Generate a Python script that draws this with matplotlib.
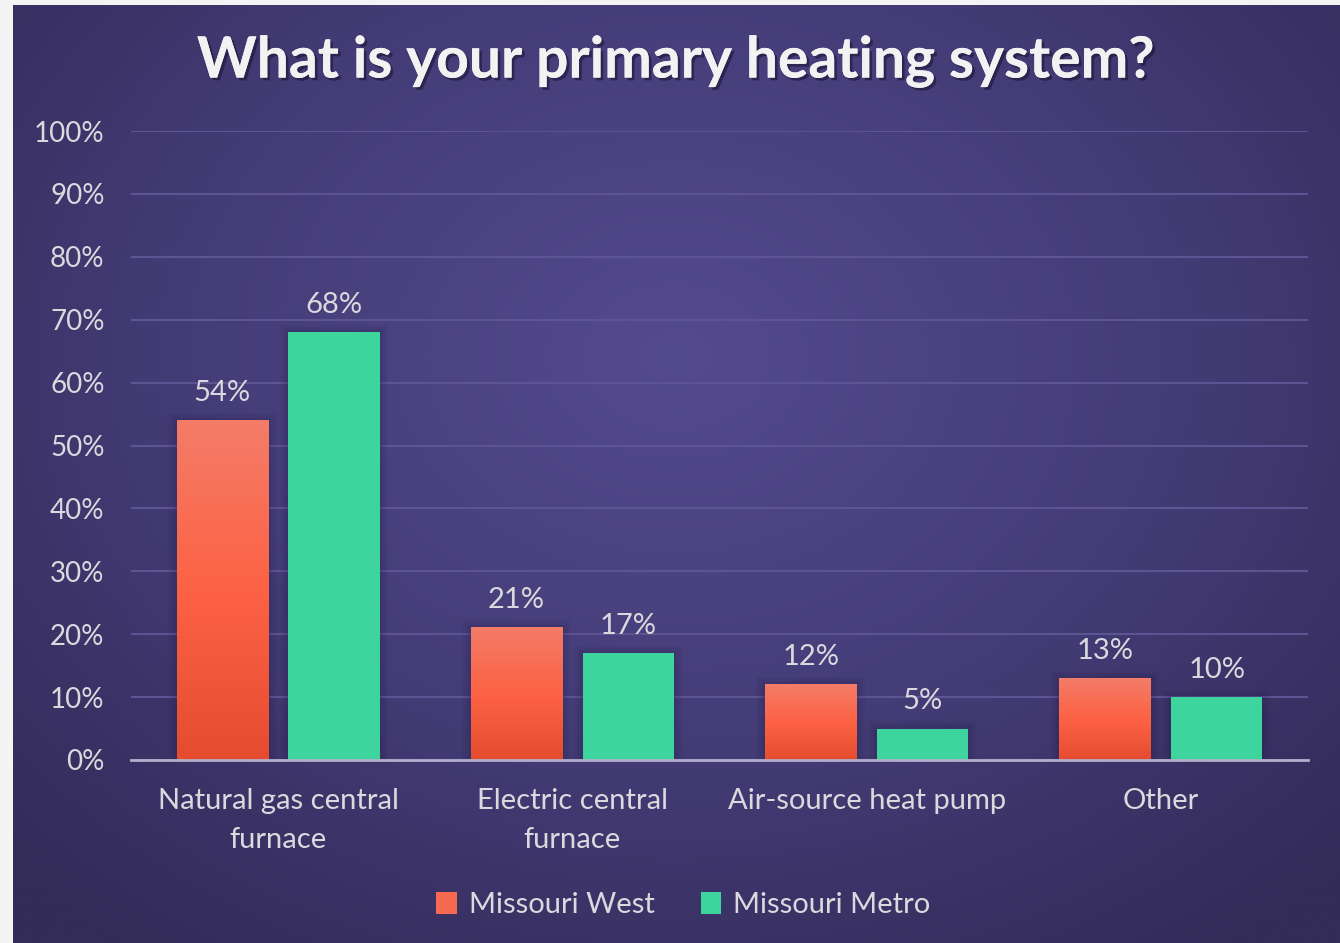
import numpy as np
import matplotlib.pyplot as plt
from matplotlib.colors import LinearSegmentedColormap
from matplotlib.patches import Patch, Rectangle
import matplotlib.patheffects as pe

categories = ["Natural gas central\nfurnace", "Electric central\nfurnace", "Air-source heat pump", "Other"]
missouri_west = [54, 21, 12, 13]
missouri_metro = [68, 17, 5, 10]
series_names = ["Missouri West", "Missouri Metro"]

plt.rcParams['font.family'] = ['Lato', 'DejaVu Sans']
text_col = '#d9d9de'
green = '#3dd49d'
orange_cmap = LinearSegmentedColormap.from_list('og', ['#e54c2f', '#fd6244', '#f47c68'])

fig = plt.figure(figsize=(13.4, 9.43), dpi=100)
fig.patch.set_facecolor('#f4f4f4')

# radial gradient panel
bg = fig.add_axes([13 / 1340, 0, 1 - 13 / 1340, 1 - 5 / 943])
bg.set_axis_off()
yy, xx = np.mgrid[-1:1:400j, -1:1:600j]
r = np.sqrt((xx * 1.0) ** 2 + ((yy + 0.25) * 0.9) ** 2)
bg_cmap = LinearSegmentedColormap.from_list('bg', ['#544a8e', '#453d78', '#332b58'])
bg.imshow(np.clip(r / 1.4, 0, 1), cmap=bg_cmap, aspect='auto', extent=(0, 1, 0, 1))
bg.set_xlim(0, 1)
bg.set_ylim(0, 1)

ax = fig.add_axes([131 / 1340, (943 - 760) / 943, (1308 - 131) / 1340, (760 - 131) / 943])
ax.patch.set_alpha(0)

x = np.arange(len(categories))
width = 0.31
offset = 0.19


def soft_shadow(xc, h):
    for k, a in [(0.03, 0.06), (0.02, 0.08), (0.01, 0.1)]:
        ax.add_patch(Rectangle((xc - width / 2 - k, 0), width + 2 * k, h + k * 40,
                               color='#1e1840', alpha=a, zorder=2, lw=0))


grad = np.linspace(0, 1, 256).reshape(-1, 1)
for xi, v in zip(x - offset, missouri_west):
    soft_shadow(xi, v)
    ax.imshow(grad, cmap=orange_cmap, origin='lower', aspect='auto',
              extent=(xi - width / 2, xi + width / 2, 0, v), zorder=3)
    ax.text(xi, v + 2.3, f"{v}%", ha='center', va='bottom', color=text_col, fontsize=21)

for xi, v in zip(x + offset, missouri_metro):
    soft_shadow(xi, v)
    ax.bar(xi, v, width, color=green, zorder=3)
    ax.text(xi, v + 2.3, f"{v}%", ha='center', va='bottom', color=text_col, fontsize=21)

ax.set_xlim(-0.5, len(categories) - 0.5)
ax.set_ylim(0, 100)
ax.set_yticks(np.arange(0, 101, 10))
ax.set_yticklabels([f"{t}%" for t in range(0, 101, 10)])
ax.set_xticks(x)
ax.set_xticklabels(categories, linespacing=1.62, fontsize=21)
ax.tick_params(axis='both', length=0, colors=text_col)
ax.tick_params(axis='y', pad=19, labelsize=20)
ax.tick_params(axis='x', pad=20)
ax.grid(axis='y', color='#5d5494', linewidth=1.5, zorder=0)
ax.set_axisbelow(True)
for s in ['top', 'right', 'left']:
    ax.spines[s].set_visible(False)
ax.spines['bottom'].set_color('#b3aecb')
ax.spines['bottom'].set_linewidth(2)
ax.spines['bottom'].set_zorder(5)

fig.text(0.505, 0.935, "What is your primary heating system?", ha='center', va='center',
         color='#f2f2f2', fontsize=41, fontweight='bold',
         path_effects=[pe.withSimplePatchShadow(offset=(2, -2), shadow_rgbFace='#1a1535', alpha=0.6), pe.Normal()])

handles = [Patch(facecolor='#f76a50'), Patch(facecolor=green)]
fig.legend(handles, series_names, loc='center', bbox_to_anchor=(0.51, (943 - 905) / 943), ncol=2,
           frameon=False, fontsize=21, labelcolor=text_col, handlelength=0.7, handleheight=0.8,
           handletextpad=0.4, columnspacing=1.6)

fig.savefig('out.png', dpi=100, facecolor=fig.get_facecolor())
